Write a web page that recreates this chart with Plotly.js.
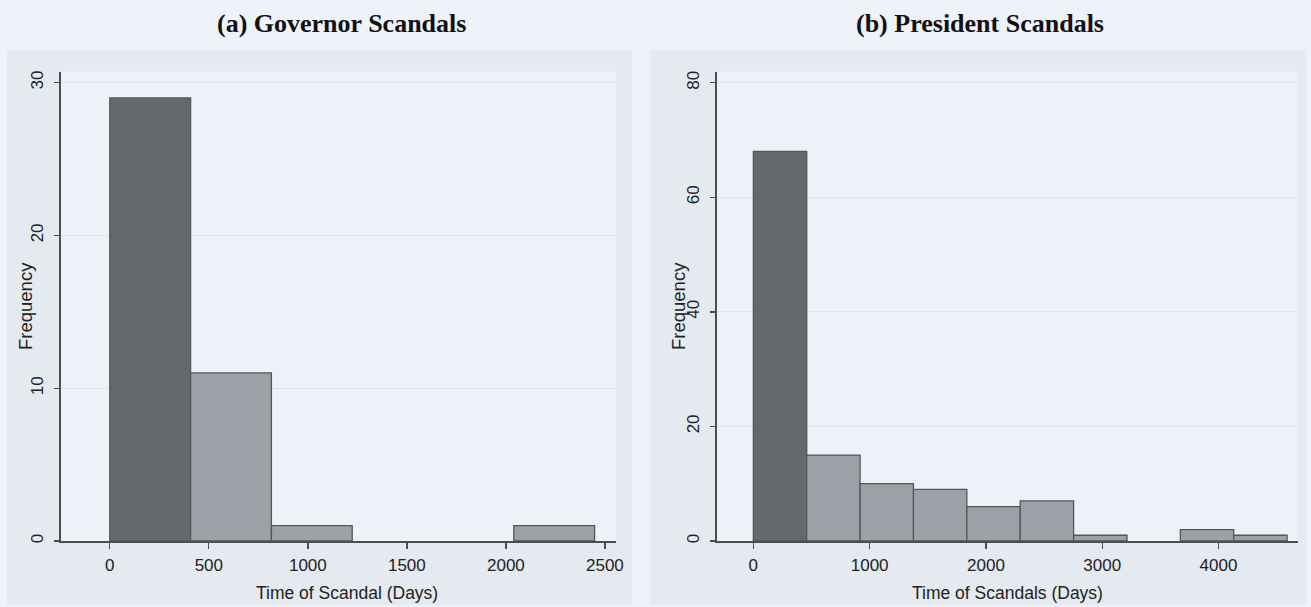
<!DOCTYPE html>
<html>
<head>
<meta charset="utf-8">
<script src="https://cdn.plot.ly/plotly-3.0.1.min.js"></script>
<style>
  html, body { margin: 0; padding: 0; background: #eef2f9; }
  #chart { width: 1311px; height: 607px; }
</style>
</head>
<body>
<div id="chart"></div>
<script>
// ---- Data ----
// (a) Governor scandals: histogram counts per bin
const govBinStart = 0;
const govBinWidth = 408;
const govCounts = [29, 11, 1, 0, 0, 1];
const govXTicks = [0, 500, 1000, 1500, 2000, 2500];
const govYTicks = [0, 10, 20, 30];

// (b) President scandals: histogram counts per bin
const presBinStart = 0;
const presBinWidth = 459;
const presCounts = [68, 15, 10, 9, 6, 7, 1, 0, 2, 1];
const presXTicks = [0, 1000, 2000, 3000, 4000];
const presYTicks = [0, 20, 40, 60, 80];

const titles = ["(a) Governor Scandals", "(b) President Scandals"];
const xTitles = ["Time of Scandal (Days)", "Time of Scandals (Days)"];
const yTitle = "Frequency";

// ---- Styling ----
const W = 1311, H = 607;
const darkBar = '#65696d';
const lightBar = '#9da0a6';
const barLine = '#53575c';
const axisCol = '#4a4e53';
const panelCol = '#e5e9f0';
const plotCol = '#edf1f8';
const figCol = '#eef2f9';
const gridCol = '#dfe3ea';
const sans = 'Liberation Sans, Arial, sans-serif';
const serif = 'Liberation Serif, Times New Roman, serif';

function px(x) { return x / W; }
function py(y) { return 1 - y / H; }

function centers(start, width, counts) {
  return counts.map((_, i) => start + width * (i + 0.5));
}
function colors(counts) {
  return counts.map((_, i) => i === 0 ? darkBar : lightBar);
}
function lineWidths(counts) {
  return counts.map(c => c > 0 ? 1.3 : 0);
}

const traces = [
  {
    type: 'bar', x: centers(govBinStart, govBinWidth, govCounts), y: govCounts,
    width: govBinWidth, xaxis: 'x', yaxis: 'y',
    marker: { color: colors(govCounts), line: { color: barLine, width: lineWidths(govCounts) } },
    hoverinfo: 'x+y', showlegend: false
  },
  {
    type: 'bar', x: centers(presBinStart, presBinWidth, presCounts), y: presCounts,
    width: presBinWidth, xaxis: 'x2', yaxis: 'y2',
    marker: { color: colors(presCounts), line: { color: barLine, width: lineWidths(presCounts) } },
    hoverinfo: 'x+y', showlegend: false
  }
];

const yDom = [py(541), py(71.5)];

function xAxis(domain, range, ticks, anchor) {
  return {
    domain: domain, range: range, anchor: anchor,
    tickmode: 'array', tickvals: ticks, ticktext: ticks.map(String),
    ticks: 'outside', ticklen: 6, tickwidth: 1.3, tickcolor: axisCol,
    ticklabelstandoff: 2,
    showline: true, linecolor: axisCol, linewidth: 1.5,
    showgrid: false, zeroline: false,
    tickfont: { family: sans, size: 17, color: '#222' }
  };
}
function yAxis(range, ticks, anchor) {
  return {
    domain: yDom, range: range, anchor: anchor,
    tickmode: 'array', tickvals: ticks, ticktext: ticks.map(String),
    ticks: 'outside', ticklen: 5, tickwidth: 1.3, tickcolor: axisCol,
    tickangle: -90, ticklabelstandoff: 4,
    showline: true, linecolor: axisCol, linewidth: 1.5,
    showgrid: true, gridcolor: gridCol, gridwidth: 1, zeroline: false,
    tickfont: { family: sans, size: 17, color: '#222' }
  };
}

const layout = {
  width: W, height: H,
  margin: { l: 0, r: 0, t: 0, b: 0 },
  paper_bgcolor: figCol,
  plot_bgcolor: 'rgba(0,0,0,0)',
  bargap: 0,
  xaxis: xAxis([px(60.7), px(616)], [-248, 2556], govXTicks, 'y'),
  yaxis: yAxis([0, 30.73], govYTicks, 'x'),
  xaxis2: xAxis([px(716.7), px(1297.7)], [-315, 4681], presXTicks, 'y2'),
  yaxis2: yAxis([0, 81.96], presYTicks, 'x2'),
  shapes: [
    { type: 'rect', xref: 'paper', yref: 'paper', layer: 'below',
      x0: px(7), x1: px(632), y0: py(605), y1: py(50), fillcolor: panelCol, line: { width: 0 } },
    { type: 'rect', xref: 'paper', yref: 'paper', layer: 'below',
      x0: px(650), x1: px(1306), y0: py(605), y1: py(50), fillcolor: panelCol, line: { width: 0 } },
    { type: 'rect', xref: 'paper', yref: 'paper', layer: 'below',
      x0: px(60.7), x1: px(616), y0: py(541), y1: py(71.5), fillcolor: plotCol, line: { width: 0 } },
    { type: 'rect', xref: 'paper', yref: 'paper', layer: 'below',
      x0: px(716.7), x1: px(1297.7), y0: py(541), y1: py(71.5), fillcolor: plotCol, line: { width: 0 } }
  ],
  annotations: [
    { text: '<b>' + titles[0] + '</b>', xref: 'paper', yref: 'paper', x: px(341), y: py(23),
      xanchor: 'center', yanchor: 'middle', showarrow: false,
      font: { family: serif, size: 26, color: '#111' } },
    { text: '<b>' + titles[1] + '</b>', xref: 'paper', yref: 'paper', x: px(980), y: py(23),
      xanchor: 'center', yanchor: 'middle', showarrow: false,
      font: { family: serif, size: 26, color: '#111' } },
    { text: xTitles[0], xref: 'paper', yref: 'paper', x: px(347), y: py(593),
      xanchor: 'center', yanchor: 'middle', showarrow: false,
      font: { family: sans, size: 17.5, color: '#222' } },
    { text: xTitles[1], xref: 'paper', yref: 'paper', x: px(1007), y: py(593),
      xanchor: 'center', yanchor: 'middle', showarrow: false,
      font: { family: sans, size: 17.5, color: '#222' } },
    { text: yTitle, xref: 'paper', yref: 'paper', x: px(25), y: py(306), textangle: -90,
      xanchor: 'center', yanchor: 'middle', showarrow: false,
      font: { family: sans, size: 18.5, color: '#222' } },
    { text: yTitle, xref: 'paper', yref: 'paper', x: px(678), y: py(306), textangle: -90,
      xanchor: 'center', yanchor: 'middle', showarrow: false,
      font: { family: sans, size: 18.5, color: '#222' } }
  ]
};

Plotly.newPlot('chart', traces, layout, { staticPlot: true, displayModeBar: false });
</script>
</body>
</html>
